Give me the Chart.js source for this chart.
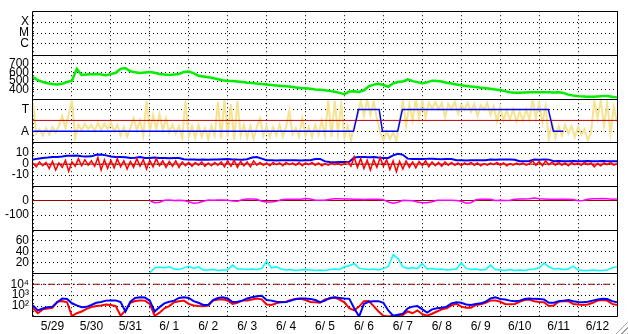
<!DOCTYPE html>
<html><head><meta charset="utf-8">
<script src="https://cdn.jsdelivr.net/npm/chart.js@4.4.1/dist/chart.umd.min.js"></script>
<style>
html,body{margin:0;padding:0;background:#fff;}
#wrap{position:relative;width:628px;height:334px;}
#grip{position:absolute;left:615px;top:320px;width:13px;height:14px;background:repeating-linear-gradient(135deg,#fff 0 2px,#a0a0a0 2px 3px,#fff 3px 4px);clip-path:polygon(100% 0,100% 100%,0 100%);}
</style></head><body>
<div id="wrap"><canvas id="c" width="628" height="334"></canvas><div id="grip"></div></div>
<script>
// ---- time axis (hours from 5/29 00:00) ----
const dayLabels = ['5/29','5/30','5/31','6/ 1','6/ 2','6/ 3','6/ 4','6/ 5','6/ 6','6/ 7','6/ 8','6/ 9','6/10','6/11','6/12'];
const totalHours = 360;

// ---- tick labels ----
const flareLabels = ['C','M','X'];
const flareTicks = [1,2,3];
const speedTicks = [400,500,600,700];
const sectorLabels = ['A','T'];
const sectorTicks = [1,3];
const bzTicks = [-10,0,10];
const dstTicks = [-100,0];
const densTicks = [20,40,60];
const fluxTicks = [100,1000,10000];
const fluxLabels = ['10\u00b2','10\u00b3','10\u2074'];

// ---- series (3 h steps unless noted) ----
const speed = [545,510,490,475,468,462,470,490,505,640,
570,575,578,582,575,568,580,595,640,650,
612,600,592,598,605,595,582,575,570,575,
582,605,610,592,560,552,545,535,522,510,
500,500,495,490,482,478,472,468,462,455,
450,445,440,435,428,422,418,412,405,400,
395,388,378,365,350,380,385,375,395,440,
460,470,455,435,475,490,495,520,500,488,
475,485,505,500,495,482,472,462,452,445,
438,432,425,418,412,405,398,385,372,368,
368,370,372,372,372,372,372,370,372,365,
345,335,328,325,322,322,325,328,330,320,
312];

// yellow band, 2 h steps
const sectorNoise = [3.6,0.8,1.2,0.6,1.3,0.7,1.4,0.9,1.5,2.4,
1.3,2.6,3.8,0.4,1.6,1.1,1.7,1.2,1.6,1.0,
1.8,1.1,1.7,1.2,1.8,1.0,1.6,0.6,1.4,0.5,
1.3,2.2,1.1,2.0,0.6,3.8,1.0,2.5,1.2,2.6,
1.1,2.2,0.9,1.6,0.8,1.5,0.4,3.8,0.5,1.5,
0.4,1.6,0.5,1.3,0.3,1.5,0.6,3.7,0.3,3.9,
0.5,3.5,0.2,3.8,0.6,1.6,0.4,1.5,0.3,1.4,
2.2,0.6,1.5,0.5,1.4,0.6,1.6,0.5,1.4,2.9,
0.7,1.3,0.5,2.2,0.6,1.4,0.5,1.6,0.7,2.0,
0.6,3.9,0.5,3.8,0.8,3.5,0.4,1.5,0.2,1.6,
2.3,3.8,2.4,3.9,2.5,3.7,2.2,0.9,0.2,1.0,
0.3,0.9,0.1,2.0,3.8,1.5,3.5,2.0,3.9,2.2,
3.8,2.3,3.6,3.1,3.7,3.0,3.6,2.3,3.5,3.0,
3.7,2.6,3.4,3.0,3.6,2.8,3.5,2.4,3.4,3.0,
3.6,2.5,3.3,1.9,3.2,2.0,2.9,2.1,3.0,1.9,
2.8,2.0,3.0,2.1,3.9,2.2,3.6,1.8,3.3,0.3,
1.8,0.4,1.5,0.6,1.6,0.8,1.5,0.5,1.4,0.7,
1.2,0.2,0.9,3.8,2.2,3.9,1.5,3.6,0.8,3.2,
1.9];

// sector step line (hour, level)
const sectorHours = [0,197.6,200.6,213.4,215.4,224.8,227.7,317.7,320.8,326.9];
const sectorLevel = [1,1,3,3,1,1,3,3,1,1];
const sectorMid = 2;

const bt = [4.1,5.0,5.6,6.0,6.5,6.5,7.0,7.6,7.6,7.8,
7.1,7.0,7.1,8.6,8.8,8.0,7.0,6.5,6.5,6.2,
5.6,5.8,6.5,5.6,5.6,6.0,5.6,5.6,5.4,5.6,
5.5,4.5,4.1,4.1,4.0,4.1,4.0,4.1,4.2,4.5,
4.7,4.3,4.1,4.0,4.5,6.0,6.5,5.0,3.5,3.5,
3.4,3.5,3.5,3.6,3.5,3.4,3.5,3.6,4.7,4.7,
2.5,2.0,1.8,2.0,2.0,2.2,6.0,6.5,6.5,6.3,
6.5,6.0,5.6,5.6,8.0,9.4,8.5,5.0,4.7,4.7,
4.7,4.8,5.0,4.7,4.5,4.7,4.6,3.5,3.5,3.4,
3.5,3.6,3.5,3.5,4.1,4.0,4.1,4.2,4.1,4.0,
2.7,2.7,2.8,4.1,4.0,4.2,4.1,2.7,2.8,2.7,
2.7,2.8,2.6,2.7,2.8,2.7,2.7,2.8,2.7,2.7,
2.6];

// Bz, 2 h steps
const bz = [1.0,-2.5,2.0,-1.5,1.5,-4.0,2.5,-5.5,1.0,-3.0,
3.5,-6.5,2.0,-2.0,5.0,-1.5,4.0,-1.0,3.0,-2.0,
6.0,-5.5,4.0,-4.0,3.5,-3.5,5.0,-2.5,3.0,-4.5,
2.5,-3.0,5.0,-2.0,4.0,-4.5,3.5,-2.5,5.0,-1.5,
3.0,-3.0,2.5,-2.0,3.0,-3.0,2.0,-1.5,1.5,-2.0,
1.5,-1.0,2.0,-2.0,1.0,-1.5,1.5,-1.0,2.0,-2.5,
3.0,-2.0,3.5,-3.0,2.5,-1.5,2.0,-2.5,3.0,-1.0,
1.5,-1.0,1.0,-1.5,1.5,-0.5,1.0,-1.5,1.5,-0.5,
1.0,-1.0,1.5,-1.5,1.0,-0.5,1.5,-1.0,1.0,-1.5,
0.5,-1.0,1.0,-0.5,1.0,-1.0,0.5,2.0,-2.0,6.5,
-3.0,5.0,-4.0,3.5,-5.5,4.0,-3.0,6.0,-2.0,4.0,
-5.0,3.0,-7.0,2.5,-4.5,3.0,-3.0,2.0,-3.5,2.5,
-1.5,3.0,-2.5,2.0,-1.5,1.5,-2.0,2.0,-1.0,1.5,
-1.0,1.0,-1.5,1.0,-0.5,1.5,-1.0,1.0,-1.5,0.5,
-1.0,1.0,-0.5,1.5,-1.0,1.0,-1.5,0.5,-1.0,1.0,
-0.5,1.0,-1.0,0.5,3.0,-1.0,2.5,-1.5,3.0,-0.5,
2.0,-1.0,1.5,-1.0,1.0,-1.5,1.5,-0.5,1.0,-1.0,
1.5,-0.5,1.0,-2.5,0.5,-1.5,1.0,-0.5,1.5,-1.0,
0.5];
const bzZero = 0;

// Dst and density start at 6/1 00:00 (hour 72)
const lateStart = 72;
const dst = [-2,-15,-12,2,3,0,1,0,-8,-18,
-15,-5,3,2,3,4,2,-3,-5,6,
10,10,9,-5,-10,-10,-6,5,8,8,
9,8,13,10,2,2,2,8,12,12,
11,10,8,8,7,8,8,8,6,-10,
-18,-12,2,0,-2,-10,-15,-16,-8,2,
2,1,2,0,-5,-18,-15,5,8,8,
8,0,2,0,2,8,10,10,12,17,
12,10,8,8,9,8,8,7,-2,0,
8,12,12,13,12,8,10];
const dstZero = 0;

const dens = [1,10,11,10,12,8,7,10,13,9,
12,6,6,7,5,6,6,15,8,8,
7,8,7,9,22,10,12,8,6,7,
5,6,7,6,5,6,5,7,8,7,
12,14,18,9,8,7,8,6,9,12,
34,27,12,9,10,9,18,8,9,7,
8,6,7,8,19,9,7,8,6,7,
15,7,6,5,7,5,6,5,7,8,
10,19,12,8,9,7,8,13,6,5,
5,6,5,5,6,10,12];

const fluxBlue = [117,40,60,80,89,224,500,447,180,117,
80,85,126,200,234,316,330,330,234,32,
251,562,630,600,316,32,80,178,251,316,
562,630,562,282,200,126,126,355,562,630,
500,234,251,316,500,630,794,891,355,316,
251,224,234,316,447,500,500,447,355,224,
316,562,630,562,500,457,63,11,158,251,
282,282,200,40,13,16,20,63,89,100,
50,25,50,63,71,89,178,224,200,141,
126,158,178,251,500,630,447,400,316,282,
316,447,500,457,447,400,200,200,282,316,
355,282,234,224,251,316,400,457,447,282,
224];
const fluxRed = [63,22,50,60,71,251,288,224,12,22,
32,56,80,100,112,141,126,100,13,40,
200,288,331,316,158,13,25,63,100,224,
282,316,158,112,100,98,112,316,398,417,
316,158,200,316,331,398,500,417,141,126,
178,234,251,355,447,457,355,234,224,200,
398,500,603,398,224,63,40,89,282,288,
100,32,13,11,13,11,16,32,22,40,
18,13,20,32,50,63,117,158,89,71,
71,126,145,200,316,331,251,158,145,158,
251,355,398,282,234,224,100,112,251,288,
282,158,141,126,141,200,316,355,316,158,
126];
const fluxAlert = 10000;

// ---- helpers ----
const series = (vals, start, step) => vals.map((v, i) => ({x: start + i * step, y: v}));
const level = (v) => [{x: 0, y: v}, {x: totalHours, y: v}];

const FONT = {family: '"Liberation Sans", Arial, sans-serif', size: 12};

function yAxis(weight, min, max, ticks, labels, type) {
  return {
    type: type || 'linear', position: 'left', stack: 'panels', stackWeight: 1, weight,
    min, max,
    afterFit: s => { s.width = 33; },
    afterBuildTicks: s => { s.ticks = ticks.map(v => ({value: v})); },
    grid: {color: '#000', lineWidth: 1, drawTicks: false},
    border: {display: false, dash: [1, 3]},
    ticks: {padding: 4, color: '#000', font: FONT, autoSkip: false, maxRotation: 0,
      callback: (v, i) => labels[i]}
  };
}

const framePlugin = {
  id: 'frame',
  afterDatasetsDraw(chart) {
    const {ctx, chartArea: a, scales} = chart;
    ctx.save();
    ctx.strokeStyle = '#000';
    ctx.lineWidth = 1;
    ctx.beginPath();
    ['yF','yS','yT','yB','yD','yN'].forEach(id => {
      const y = Math.round(scales[id].bottom) + 0.5;
      ctx.moveTo(a.left, y); ctx.lineTo(a.right, y);
    });
    ctx.rect(Math.round(a.left) - 0.5, Math.round(a.top) + 0.5,
             Math.round(a.right) - Math.round(a.left) + 1, Math.round(a.bottom) - Math.round(a.top) - 1);
    ctx.stroke();
    ctx.restore();
  }
};

const L = (o) => Object.assign({borderWidth: 1.5, pointRadius: 0, tension: 0, fill: false}, o);

new Chart(document.getElementById('c'), {
  type: 'line',
  data: {datasets: [
    L({yAxisID: 'yT', data: sectorHours.map((h, i) => ({x: h, y: sectorLevel[i]})), borderColor: '#0000ff'}),
    L({yAxisID: 'yT', data: level(sectorMid), borderColor: '#c00000', borderWidth: 1}),
    L({yAxisID: 'yT', data: series(sectorNoise, 0, 2), borderColor: '#f7e38f', borderWidth: 2}),
    L({yAxisID: 'yS', data: series(speed, 0, 3), borderColor: '#00ee00', borderWidth: 2.5}),
    L({yAxisID: 'yB', data: series(bz, 0, 2), borderColor: '#ff0000', borderWidth: 1.5}),
    L({yAxisID: 'yB', data: series(bt, 0, 3), borderColor: '#0000ff', borderWidth: 2}),
    L({yAxisID: 'yB', data: level(bzZero), borderColor: '#a00000', borderWidth: 1}),
    L({yAxisID: 'yD', data: series(dst, lateStart, 3), borderColor: '#ff00ff'}),
    L({yAxisID: 'yD', data: level(dstZero), borderColor: '#a00000', borderWidth: 1}),
    L({yAxisID: 'yN', data: series(dens, lateStart, 3), borderColor: '#00ffff'}),
    L({yAxisID: 'yX', data: series(fluxBlue, 0, 3), borderColor: '#0000ff', borderWidth: 2}),
    L({yAxisID: 'yX', data: series(fluxRed, 0, 3), borderColor: '#ff0000', borderWidth: 2}),
    L({yAxisID: 'yX', data: level(fluxAlert), borderColor: '#a00000', borderWidth: 1, borderDash: [7, 3, 2, 3]})
  ]},
  options: {
    responsive: false, animation: false, devicePixelRatio: 1,
    layout: {padding: {left: 0, right: 11, top: 2, bottom: 0}},
    plugins: {legend: {display: false}, tooltip: {enabled: false}},
    scales: {
      x: {
        type: 'linear', position: 'bottom', min: 0, max: totalHours,
        afterFit: s => { s.height = 17; },
        afterBuildTicks: s => { s.ticks = dayLabels.map((_, i) => ({value: 12 + 24 * i})); },
        grid: {offset: true, color: '#000', lineWidth: 1, drawTicks: false},
        border: {display: false, dash: [1, 3]},
        ticks: {padding: 2, color: '#000', font: FONT, autoSkip: false, maxRotation: 0,
          callback: (v, i) => dayLabels[i]}
      },
      yF: yAxis(7, 0, 4, flareTicks, flareLabels),
      yS: yAxis(6, 300, 800, speedTicks, speedTicks.map(String)),
      yT: yAxis(5, 0, 4, sectorTicks, sectorLabels),
      yB: yAxis(4, -20, 20, bzTicks, bzTicks.map(String)),
      yD: yAxis(3, -200, 100, dstTicks, dstTicks.map(String)),
      yN: yAxis(2, 0, 80, densTicks, densTicks.map(String)),
      yX: yAxis(1, 10, 100000, fluxTicks, fluxLabels, 'logarithmic')
    }
  },
  plugins: [framePlugin]
});
</script>
</body></html>
